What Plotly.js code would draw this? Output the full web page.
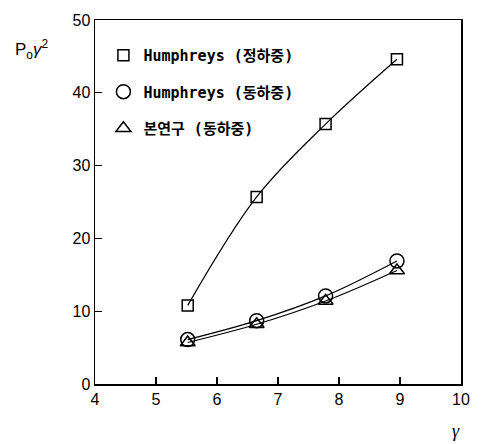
<!DOCTYPE html>
<html>
<head>
<meta charset="utf-8">
<script src="https://cdn.plot.ly/plotly-3.0.1.min.js"></script>
<style>html,body{margin:0;padding:0;background:#fff;}#chart{width:484px;height:444px;}</style>
</head>
<body>
<div id="chart"></div>
<script>
// Data
const gamma = [5.52, 6.65, 7.78, 8.95];
const humphreysStatic = [10.8, 25.7, 35.7, 44.6];
const humphreysDynamic = [6.1, 8.7, 12.1, 16.9];
const thisStudyDynamic = [5.7, 8.2, 11.4, 15.6];
const seriesNames = ['Humphreys (정하중)', 'Humphreys (동하중)', '본연구 (동하중)'];
const xTicks = [4, 5, 6, 7, 8, 9, 10];
const yTicks = [0, 10, 20, 30, 40, 50];

const series = [humphreysStatic, humphreysDynamic, thisStudyDynamic];
const symbols = ['square-open', 'circle-open', 'triangle-up-open'];
const sizes = [11, 14, 13];

const traces = [];
series.forEach((ys, i) => {
  traces.push({
    x: gamma, y: ys, type: 'scatter', mode: 'lines',
    line: {color: '#000', width: 1.2, shape: 'spline', smoothing: 1},
    showlegend: false, hoverinfo: 'skip'
  });
});
series.forEach((ys, i) => {
  traces.push({
    x: gamma, y: ys, type: 'scatter', mode: 'markers',
    name: seriesNames[i], legendgroup: 'g' + i,
    marker: {symbol: symbols[i], size: sizes[i], color: '#000', line: {width: 1.5, color: '#000'}}
  });
});

const axisCommon = {
  showgrid: false, zeroline: false, showline: true, linecolor: '#000', linewidth: 1.5,
  mirror: true, ticks: 'inside', ticklen: 7, tickwidth: 1.2, tickcolor: '#000',
  tickfont: {family: 'Liberation Sans, Arial, sans-serif', size: 16, color: '#000'}
};

const layout = {
  width: 484, height: 444,
  margin: {l: 95, r: 23, t: 20, b: 60},
  paper_bgcolor: '#fff', plot_bgcolor: '#fff',
  xaxis: Object.assign({}, axisCommon, {range: [4, 10], tickvals: xTicks, ticktext: xTicks.map(String)}),
  yaxis: Object.assign({}, axisCommon, {range: [0, 50], tickvals: yTicks, ticktext: yTicks.map(String)}),
  showlegend: true,
  legend: {
    x: 0.023, y: 0.948, xanchor: 'left', yanchor: 'top',
    traceorder: 'grouped', tracegroupgap: 14,
    bgcolor: 'rgba(0,0,0,0)',
    font: {family: 'DejaVu Sans Mono, Noto Sans CJK KR, monospace', size: 15, color: '#000', weight: 'bold'}
  },
  annotations: [
    {xref: 'paper', yref: 'paper', x: -0.225, y: 0.92, xanchor: 'left', yanchor: 'middle',
     text: 'P<sub>o</sub><i>γ</i><sup>2</sup>', showarrow: false,
     font: {family: 'Liberation Sans, Arial, sans-serif', size: 17, color: '#000'}},
    {xref: 'paper', yref: 'paper', x: 0.985, y: -0.128, xanchor: 'center', yanchor: 'middle',
     text: '<i>γ</i>', showarrow: false,
     font: {family: 'Liberation Serif, serif', size: 18, color: '#000'}}
  ]
};

Plotly.newPlot('chart', traces, layout, {displayModeBar: false, staticPlot: true});
</script>
</body>
</html>
